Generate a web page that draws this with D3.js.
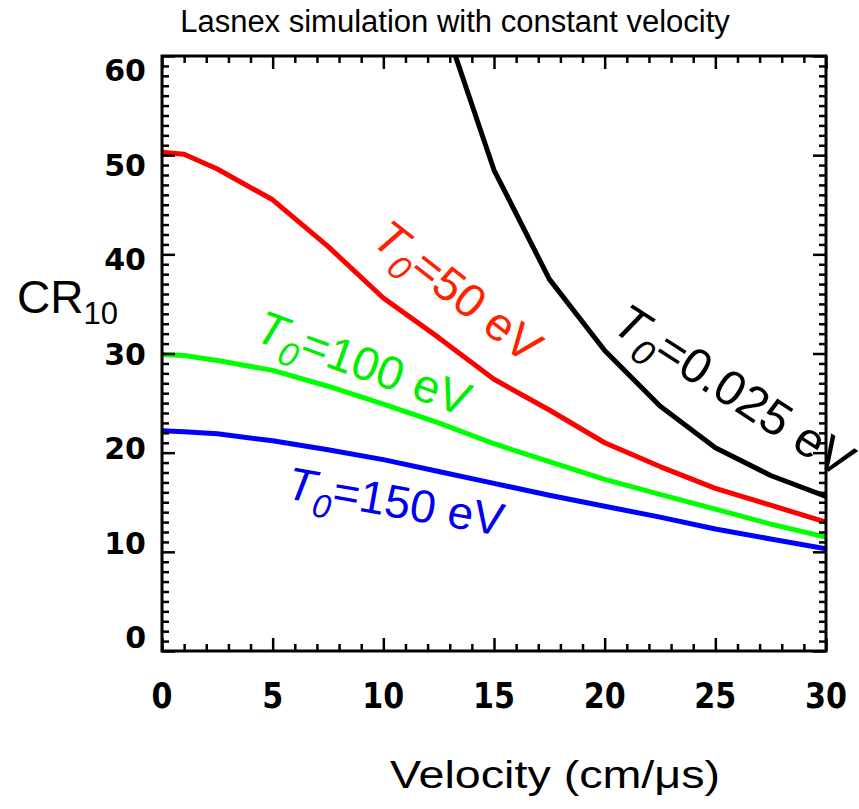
<!DOCTYPE html>
<html>
<head>
<meta charset="utf-8">
<script src="https://cdn.jsdelivr.net/npm/d3@7"></script>
<style>
  body { margin: 0; background: #fff; }
  text { font-family: "Liberation Sans", Arial, sans-serif; }
  .tick-label { font-family: "DejaVu Sans", sans-serif; font-weight: bold; }
</style>
</head>
<body>
<svg id="chart" width="859" height="809"></svg>
<script>
// Data
// ----
var velocity = [0, 1, 2.5, 5, 7.5, 10, 12.5, 15, 17.5, 20, 22.5, 25, 27.5, 30];
var cr_t0_0025 = [null, null, null, null, null, null, 65, 48.5, 37.5, 30.3, 24.7, 20.5, 17.7, 15.6];
var cr_t0_50   = [50.3, 50.1, 48.6, 45.5, 40.8, 35.6, 31.6, 27.4, 24.3, 21.0, 18.6, 16.4, 14.7, 13.0];
var cr_t0_100  = [29.9, 29.8, 29.3, 28.3, 26.7, 24.9, 23.0, 20.9, 19.1, 17.3, 15.8, 14.3, 12.8, 11.5];
var cr_t0_150  = [22.2, 22.1, 21.9, 21.2, 20.3, 19.3, 18.1, 16.9, 15.7, 14.6, 13.5, 12.3, 11.3, 10.3];

var xTicks = [0, 5, 10, 15, 20, 25, 30];
var yTicks = [0, 10, 20, 30, 40, 50, 60];

var series = [
  {name: "0.025", values: cr_t0_0025, color: "#000000"},
  {name: "50",    values: cr_t0_50,   color: "#ff0000"},
  {name: "100",   values: cr_t0_100,  color: "#00ff00"},
  {name: "150",   values: cr_t0_150,  color: "#0000ff"}
];

(function() {

  // Layout
  // ------
  var svg = d3.select("#chart");
  var pLeft = 162, pRight = 826, pTop = 56, pBottom = 651;

  var xScale = d3.scaleLinear().domain([0, 30]).range([pLeft, pRight]);
  var yScale = d3.scaleLinear().domain([0, 60]).range([pBottom, pTop]);
  // the y labels sit on a slightly tighter spacing than the ticks
  var yLabelScale = d3.scaleLinear().domain([0, 60]).range([637, 70]);

  svg.append("defs").append("clipPath").attr("id", "plotclip")
    .append("rect")
    .attr("x", pLeft).attr("y", pTop)
    .attr("width", pRight - pLeft).attr("height", pBottom - pTop);

  // Title
  svg.append("text")
    .attr("x", 455).attr("y", 32)
    .attr("text-anchor", "middle")
    .style("font-size", "31px")
    .text("Lasnex simulation with constant velocity");

  // Curves
  // ------
  var line = d3.line()
    .defined(function(d) { return d[1] != null; })
    .x(function(d) { return xScale(d[0]); })
    .y(function(d) { return yScale(d[1]); });

  svg.append("g").attr("clip-path", "url(#plotclip)")
    .selectAll("path")
    .data(series)
    .enter()
    .append("path")
    .attr("d", function(s) { return line(velocity.map(function(v, i) { return [v, s.values[i]]; })); })
    .attr("fill", "none")
    .attr("stroke", function(s) { return s.color; })
    .attr("stroke-width", 5)
    .attr("stroke-linejoin", "round");

  // Axes (ticks point inward, on all four sides)
  // --------------------------------------------
  var xMinor = d3.range(0, 31, 1);
  var yMinor = d3.range(0, 61, 1);

  function drawAxis(axis, tx, ty, minor, major) {
    var g = svg.append("g").attr("transform", "translate(" + tx + "," + ty + ")");
    g.call(axis.tickValues(minor).tickSize(7).tickFormat(""));
    g.select(".domain").remove();
    g.selectAll(".tick line")
      .attr("stroke", "#000")
      .attr("stroke-width", 2.5)
      .filter(function(d) { return major.indexOf(d) >= 0; })
      .each(function() {
        var l = d3.select(this);
        if (l.attr("y2") != null) l.attr("y2", +l.attr("y2") * 13 / 7);
        if (l.attr("x2") != null) l.attr("x2", +l.attr("x2") * 13 / 7);
      });
  }

  drawAxis(d3.axisTop(xScale), 0, pBottom, xMinor, xTicks);
  drawAxis(d3.axisBottom(xScale), 0, pTop, xMinor, xTicks);
  drawAxis(d3.axisRight(yScale), pLeft, 0, yMinor, yTicks);
  drawAxis(d3.axisLeft(yScale), pRight, 0, yMinor, yTicks);

  svg.append("rect")
    .attr("x", pLeft).attr("y", pTop)
    .attr("width", pRight - pLeft).attr("height", pBottom - pTop)
    .attr("fill", "none")
    .attr("stroke", "#000")
    .attr("stroke-width", 3);

  // Tick labels
  svg.append("g").selectAll("text")
    .data(xTicks).enter()
    .append("text")
    .attr("class", "tick-label")
    .attr("x", function(d) { return xScale(d); })
    .attr("y", 708)
    .attr("text-anchor", "middle")
    .attr("textLength", function(d) { return String(d).length * 21; })
    .attr("lengthAdjust", "spacingAndGlyphs")
    .style("font-size", "36px")
    .text(function(d) { return d; });

  svg.append("g").selectAll("text")
    .data(yTicks).enter()
    .append("text")
    .attr("class", "tick-label")
    .attr("x", 146)
    .attr("y", function(d) { return yLabelScale(d) + 11; })
    .attr("text-anchor", "end")
    .style("font-size", "30px")
    .text(function(d) { return d; });

  // Axis titles
  var ylab = svg.append("text")
    .attr("x", 17).attr("y", 313)
    .style("font-size", "46px");
  ylab.append("tspan").text("CR");
  ylab.append("tspan").attr("dy", 11).style("font-size", "31px").text("10");

  svg.append("text")
    .attr("x", 390).attr("y", 788)
    .attr("textLength", 330)
    .attr("lengthAdjust", "spacingAndGlyphs")
    .style("font-size", "38px")
    .text("Velocity (cm/\u03bcs)");

  // Curve labels
  // ------------
  var labels = [
    {name: "0.025", x: 610, y: 330, angle: 33, size: 49, color: "#000000"},
    {name: "50",    x: 370, y: 243, angle: 38, size: 47, color: "#ff2200"},
    {name: "100",   x: 253, y: 340, angle: 20, size: 47, color: "#00ee00"},
    {name: "150",   x: 285, y: 498, angle: 10, size: 46, color: "#0000ee"}
  ];

  labels.forEach(function(d) {
    var t = svg.append("text")
      .attr("transform", "translate(" + d.x + "," + d.y + ") rotate(" + d.angle + ")")
      .attr("fill", d.color)
      .style("font-size", d.size + "px");
    t.append("tspan").style("font-style", "italic").text("T");
    t.append("tspan").attr("dy", 13).style("font-style", "italic").style("font-size", (d.size * 0.72) + "px").text("0");
    t.append("tspan").attr("dy", -13).text("=" + d.name + " eV");
  });

})();
</script>
</body>
</html>
